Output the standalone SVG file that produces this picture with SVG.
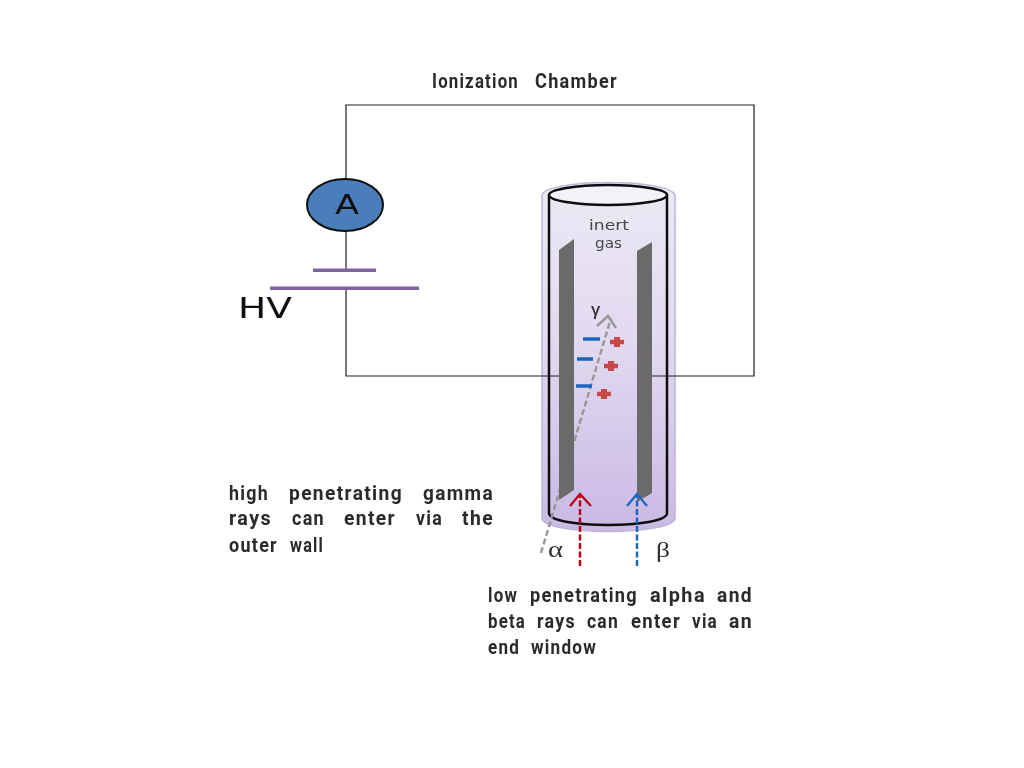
<svg xmlns="http://www.w3.org/2000/svg" width="1024" height="768" viewBox="0 0 1024 768">
<style>
.w{fill:none;stroke:#222;stroke-width:1.2}
.t{font-family:"Roboto","DejaVu Sans",sans-serif;font-size:21px;font-weight:700;fill:#2a2a2a;letter-spacing:1.5px}
.g{font-family:"Liberation Serif",serif;fill:#333}
.m{stroke:#1f66bf;stroke-width:3.5;fill:none}
.p{stroke:#c8474a;fill:none}
.plate{fill:#6b6b6b}
</style>
<defs>
<linearGradient id="tube" x1="0" y1="0" x2="0" y2="1">
<stop offset="0" stop-color="#ece9f5"/><stop offset="0.45" stop-color="#e2daf0"/><stop offset="1" stop-color="#c9b9e4"/>
</linearGradient>
<filter id="soft" x="-5%" y="-5%" width="110%" height="110%"><feGaussianBlur stdDeviation="0.45"/></filter>
</defs>
<rect width="1024" height="768" fill="#fff"/>
<g filter="url(#soft)">
<g id="chamber">
<path d="M542 196C542 178 675 178 675 196V518C675 536 542 536 542 518Z" fill="url(#tube)" stroke="#bdb4d8" stroke-width="1.5"/>
<ellipse cx="608" cy="195" rx="59" ry="10" fill="#f4f2f9" stroke="#111" stroke-width="2.5"/>
<path d="M549 195V513C549 529 667 529 667 513V195" fill="none" stroke="#111" stroke-width="2.500"/>
<text x="589" y="230" font-family="DejaVu Sans, sans-serif" font-size="14" fill="#444" textLength="40" lengthAdjust="spacingAndGlyphs">inert</text>
<text x="595" y="248" font-family="DejaVu Sans, sans-serif" font-size="14" fill="#444" textLength="27" lengthAdjust="spacingAndGlyphs">gas</text>
</g>
<g id="connectors">
<path class="w" d="M346 180V105H754V376H652M559 376H346V288M346 270V232"/>
<path d="M541 553L611 318" stroke="#999" stroke-width="2.500" stroke-dasharray="6 3" fill="none"/>
<path d="M597 326L608 316L616 328" stroke="#999" stroke-width="2.500" fill="none"/>
</g>
<g id="plates">
<polygon class="plate" points="559,250 574,239 574,490 559,500"/>
<polygon class="plate" points="637,251 652,242 652,493 637,502"/>
</g>
<g id="rays">
<path d="M580 566V496" stroke="#c00018" stroke-width="2.500" stroke-dasharray="6 2.500" fill="none"/>
<path d="M570 506L580 494L591 506" stroke="#c00018" stroke-width="2.200" fill="none"/>
<path d="M637 566V496" stroke="#1f66bf" stroke-width="2.500" stroke-dasharray="6 2.500" fill="none"/>
<path d="M627 506L637 494L647 506" stroke="#1f66bf" stroke-width="2.200" fill="none"/>
</g>
<g id="charges">
<path class="m" d="M583 339H600M577 359H593M576 386H592"/>
<path class="p" stroke-width="4.500" d="M610 342H624M604 366H618M597 394H611"/>
<path class="p" stroke-width="6" d="M617 337V347M611 361V371M604 389V399"/>
</g>
<g id="ammeter">
<ellipse cx="345" cy="205" rx="38" ry="26" fill="#4a7ebb" stroke="#111" stroke-width="2"/>
<text x="335" y="214" font-family="DejaVu Sans, sans-serif" font-size="26" fill="#111" textLength="24" lengthAdjust="spacingAndGlyphs">A</text>
</g>
<g id="battery">
<rect x="313" y="268.500" width="63" height="3.500" fill="#7f63a1"/>
<rect x="270" y="286.500" width="149" height="3.500" fill="#7f63a1"/>
<text x="238" y="318" font-family="DejaVu Sans, sans-serif" font-size="28" fill="#111" textLength="54" lengthAdjust="spacingAndGlyphs">HV</text>
</g>
<g id="labels">
<text x="591" y="315" font-family="Open Sans, sans-serif" font-weight="600" font-size="17" fill="#333">γ</text>
<text class="g" x="548" y="557" font-size="23" textLength="15" lengthAdjust="spacingAndGlyphs">α</text>
<text class="g" x="656" y="557" font-size="21" textLength="14" lengthAdjust="spacingAndGlyphs">β</text>
<g class="t">
<text x="432" y="88" textLength="87" lengthAdjust="spacingAndGlyphs">Ionization</text>
<text x="535" y="88" textLength="83" lengthAdjust="spacingAndGlyphs">Chamber</text>
<text x="229" y="500" textLength="40" lengthAdjust="spacingAndGlyphs">high</text>
<text x="289" y="500" textLength="114" lengthAdjust="spacingAndGlyphs">penetrating</text>
<text x="423" y="500" textLength="71" lengthAdjust="spacingAndGlyphs">gamma</text>
<text x="229" y="525" textLength="43" lengthAdjust="spacingAndGlyphs">rays</text>
<text x="292" y="525" textLength="33" lengthAdjust="spacingAndGlyphs">can</text>
<text x="344" y="525" textLength="52" lengthAdjust="spacingAndGlyphs">enter</text>
<text x="416" y="525" textLength="27" lengthAdjust="spacingAndGlyphs">via</text>
<text x="462" y="525" textLength="32" lengthAdjust="spacingAndGlyphs">the</text>
<text x="229" y="552" textLength="49" lengthAdjust="spacingAndGlyphs">outer</text>
<text x="290" y="552" textLength="34" lengthAdjust="spacingAndGlyphs">wall</text>
<text x="488" y="602" textLength="30" lengthAdjust="spacingAndGlyphs">low</text>
<text x="530" y="602" textLength="108" lengthAdjust="spacingAndGlyphs">penetrating</text>
<text x="650" y="602" textLength="56" lengthAdjust="spacingAndGlyphs">alpha</text>
<text x="717" y="602" textLength="36" lengthAdjust="spacingAndGlyphs">and</text>
<text x="488" y="628" textLength="38" lengthAdjust="spacingAndGlyphs">beta</text>
<text x="537" y="628" textLength="39" lengthAdjust="spacingAndGlyphs">rays</text>
<text x="587" y="628" textLength="32" lengthAdjust="spacingAndGlyphs">can</text>
<text x="631" y="628" textLength="50" lengthAdjust="spacingAndGlyphs">enter</text>
<text x="692" y="628" textLength="26" lengthAdjust="spacingAndGlyphs">via</text>
<text x="729" y="628" textLength="24" lengthAdjust="spacingAndGlyphs">an</text>
<text x="488" y="654" textLength="32" lengthAdjust="spacingAndGlyphs">end</text>
<text x="531" y="654" textLength="66" lengthAdjust="spacingAndGlyphs">window</text>
</g>
</g>
</g>
</svg>
